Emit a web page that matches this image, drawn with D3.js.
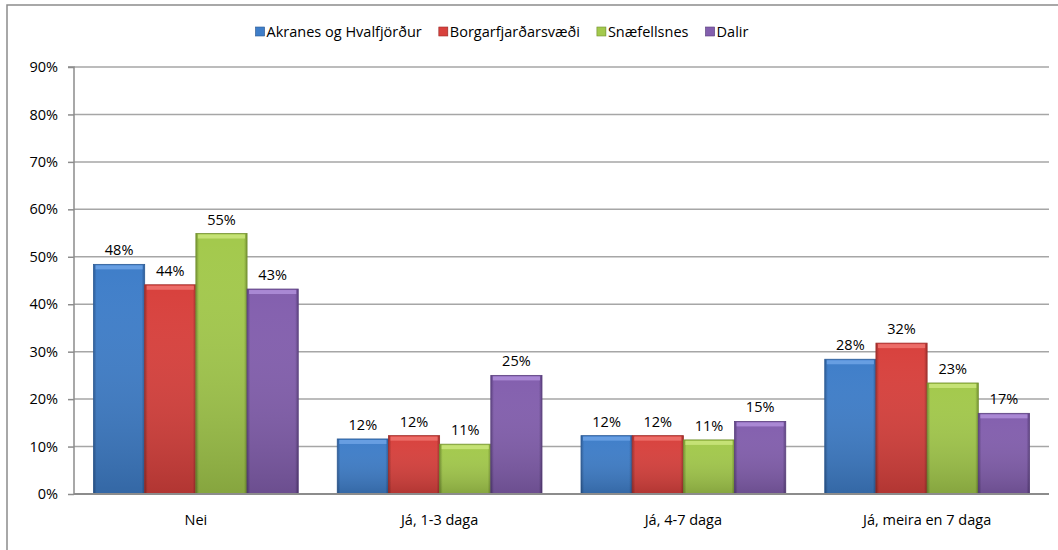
<!DOCTYPE html>
<html lang="is">
<head>
<meta charset="UTF-8">
<title>Chart</title>
<style>
    body { margin: 0; background: #fff; overflow: hidden; }
    svg { display: block; }
    text { font-family: "Open Sans", Lato, sans-serif; fill: #000; }
    .grid line { stroke: #a6a6a6; stroke-width: 1.5; }
</style>
</head>
<body>
<svg id="chart" width="1058" height="550"></svg>
<script src="https://cdn.jsdelivr.net/npm/d3@7/dist/d3.min.js"></script>
<script>

const categories = ["Nei", "Já, 1-3 daga", "Já, 4-7 daga", "Já, meira en 7 daga"]
const seriesNames = ["Akranes og Hvalfjörður", "Borgarfjarðarsvæði", "Snæfellsnes", "Dalir"]
const akranes = [48.4, 11.6, 12.3, 28.4]
const borgarfjordur = [44.1, 12.3, 12.3, 31.8]
const snaefellsnes = [54.9, 10.5, 11.4, 23.4]
const dalir = [43.2, 25.0, 15.3, 17.0]
const yTicks = [0, 10, 20, 30, 40, 50, 60, 70, 80, 90]

const colors = [
    {main: "#3f7ec9", light: "#6fa3e6", dark: "#2b5a95"},
    {main: "#d8413d", light: "#f07470", dark: "#9e2d2a"},
    {main: "#a3c94c", light: "#cbe67c", dark: "#739130"},
    {main: "#835fae", light: "#b08fdb", dark: "#5a3f7e"}
]

const values = [akranes, borgarfjordur, snaefellsnes, dalir]
const data = categories.map((c, i) => ({
    cat: c,
    vals: values.map((s, j) => ({series: j, value: s[i]}))
}))

const fontSize = "14.5px"
const svg = d3.select("#chart")
const plotLeft = 74, plotRight = 1049, plotTop = 67, plotBottom = 494

// outer frame: only the left and top edges are inside the picture
svg.append("path")
    .attr("d", "M7,550V5H1058")
    .attr("fill", "none").attr("stroke", "#8c8c8c").attr("stroke-width", 1.5)

const defs = svg.append("defs")
colors.forEach((c, i) => {
    let g = defs.append("linearGradient").attr("id", "grad" + i)
        .attr("x1", 0).attr("x2", 1).attr("y1", 0).attr("y2", 0)
    g.append("stop").attr("offset", "0%").attr("stop-color", c.dark)
    g.append("stop").attr("offset", "6%").attr("stop-color", c.main)
    g.append("stop").attr("offset", "94%").attr("stop-color", c.main)
    g.append("stop").attr("offset", "100%").attr("stop-color", c.dark)
    let v = defs.append("linearGradient").attr("id", "shade" + i)
        .attr("x1", 0).attr("x2", 0).attr("y1", 0).attr("y2", 1)
    v.append("stop").attr("offset", "0%").attr("stop-color", "#fff").attr("stop-opacity", 0)
    v.append("stop").attr("offset", "100%").attr("stop-color", "#000").attr("stop-opacity", 0.18)
})

const x0 = d3.scaleBand()
    .domain(categories)
    .range([plotLeft, plotRight])
    .paddingInner(0.16)
    .paddingOuter(0.08)

const x1 = d3.scaleBand()
    .domain(d3.range(seriesNames.length))
    .range([0, x0.bandwidth()])

const y = d3.scaleLinear()
    .domain([0, 90])
    .range([plotBottom, plotTop])

// gridlines
svg.append("g").attr("class", "grid")
    .selectAll("line")
    .data(yTicks.filter(d => d > 0))
    .join("line")
    .attr("x1", plotLeft).attr("x2", plotRight)
    .attr("y1", d => y(d)).attr("y2", d => y(d))

// y axis
const yAxis = d3.axisLeft(y)
    .tickValues(yTicks)
    .tickFormat(d => d + "%")
    .tickSize(6)
    .tickPadding(10)

const ya = svg.append("g")
    .attr("transform", "translate(" + plotLeft + ",0)")
    .call(yAxis)
ya.select(".domain").attr("stroke", "#8c8c8c").attr("stroke-width", 1.5).attr("d", "M-6," + plotTop + "H0V" + plotBottom)
ya.selectAll(".tick line").attr("stroke", "#8c8c8c").attr("stroke-width", 1.5)
ya.selectAll(".tick text").style("font-size", fontSize).style("font-family", "'Open Sans', Lato, sans-serif").attr("fill", "#000")

// bars
const groups = svg.append("g")
    .selectAll("g")
    .data(data)
    .join("g")
    .attr("transform", d => "translate(" + x0(d.cat) + ",0)")

const bars = groups.selectAll("g")
    .data(d => d.vals)
    .join("g")

bars.append("rect")
    .attr("x", d => x1(d.series))
    .attr("y", d => y(d.value))
    .attr("width", x1.bandwidth())
    .attr("height", d => plotBottom - y(d.value))
    .attr("fill", d => "url(#grad" + d.series + ")")
    .attr("stroke", d => colors[d.series].dark)
    .attr("stroke-width", 0.8)

bars.append("rect")
    .attr("x", d => x1(d.series))
    .attr("y", d => y(d.value))
    .attr("width", x1.bandwidth())
    .attr("height", d => plotBottom - y(d.value))
    .attr("fill", d => "url(#shade" + d.series + ")")

// bevel at the top of each bar
bars.append("rect")
    .attr("x", d => x1(d.series) + 2)
    .attr("y", d => y(d.value) + 1)
    .attr("width", x1.bandwidth() - 4)
    .attr("height", 4)
    .attr("fill", d => colors[d.series].light)
    .attr("opacity", 0.85)

bars.append("text")
    .attr("x", d => x1(d.series) + x1.bandwidth() / 2)
    .attr("y", d => y(d.value) - 9)
    .attr("text-anchor", "middle")
    .style("font-size", fontSize)
    .text(d => Math.round(d.value) + "%")

// x axis line and labels
svg.append("line")
    .attr("x1", plotLeft).attr("x2", plotRight)
    .attr("y1", plotBottom).attr("y2", plotBottom)
    .attr("stroke", "#8c8c8c").attr("stroke-width", 2)

svg.append("g")
    .selectAll("text")
    .data(categories)
    .join("text")
    .attr("x", d => x0(d) + x0.bandwidth() / 2)
    .attr("y", plotBottom + 31)
    .attr("text-anchor", "middle")
    .style("font-size", fontSize)
    .text(d => d)

// legend
const legend = svg.append("g").attr("transform", "translate(0,32)")
const items = legend.selectAll("g")
    .data(seriesNames)
    .join("g")

items.append("rect")
    .attr("width", 9).attr("height", 9)
    .attr("y", -5)
    .attr("fill", (d, i) => "url(#grad" + i + ")")
    .attr("stroke", (d, i) => colors[i].dark)
    .attr("stroke-width", 0.6)

items.append("text")
    .attr("x", 11)
    .attr("y", 5)
    .style("font-size", fontSize)
    .text(d => d)

let widths = []
items.each(function() { widths.push(this.getBBox().width) })
const gap = 17
const total = d3.sum(widths) + gap * (widths.length - 1)
let pos = 502 - total / 2
items.attr("transform", (d, i) => {
    let p = pos
    pos += widths[i] + gap
    return "translate(" + p + ",0)"
})

</script>
</body>
</html>
